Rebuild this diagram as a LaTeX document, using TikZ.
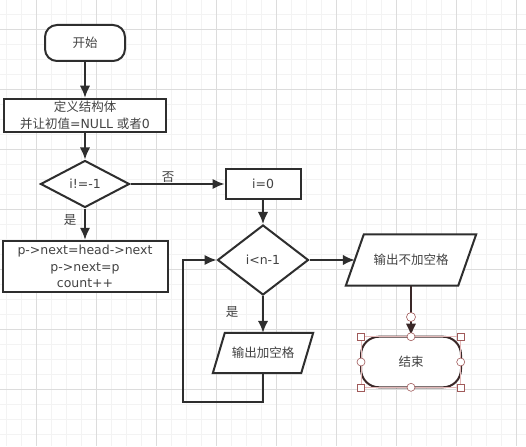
\documentclass[tikz,border=0pt]{standalone}
\usepackage{fontspec}
\setmainfont{DejaVu Sans}
\newfontfamily\cjk{Noto Sans CJK SC}
\usetikzlibrary{shapes.geometric,arrows.meta}
\definecolor{ln}{HTML}{2E2E2E}
\definecolor{endc}{HTML}{3A2828}
\definecolor{hdl}{HTML}{A05A5A}
\definecolor{sell}{HTML}{E3B8B8}
\definecolor{gmin}{HTML}{F3F3F3}
\definecolor{gmaj}{HTML}{DCDCDC}
\tikzset{
  txtfont/.style={font=\fontsize{12.5}{16.5}\selectfont},
  base/.style={draw=ln, line width=2pt, fill=white, inner sep=0pt, txtfont, align=center, text=ln!90},
  term/.style={base, rectangle, rounded corners=12pt},
  proc/.style={base, rectangle},
  dec/.style={base, diamond},
  iobox/.style={rectangle, inner sep=0pt, txtfont, align=center, text=ln!90},
  para/.style={draw=ln, line width=2pt, fill=white, line join=miter},
  arr/.style={draw=ln, line width=2pt, -{Latex[length=12pt,width=10.5pt]}},
  lbl/.style={txtfont, text=ln!90, inner sep=0pt},
  gminor/.style={draw=gmin, line width=0.6pt},
  gmajor/.style={draw=gmaj, line width=0.8pt},
  sqh/.style={rectangle, draw=hdl, fill=white, line width=0.6pt, minimum size=7pt, inner sep=0pt},
  cih/.style={circle, draw=hdl, fill=white, line width=0.6pt, minimum size=8pt, inner sep=0pt},
}
\begin{document}
\begin{tikzpicture}[x=1pt,y=-1pt]
\useasboundingbox (0,0) rectangle (526,446);
\fill[white] (0,0) rectangle (526,446);
% grid
\foreach \i in {0,...,35} \draw[gminor] ({6.7+15*\i},0) -- ++(0,446);
\foreach \i in {0,...,30} \draw[gminor] (0,{14.3+15*\i}) -- ++(526,0);
\foreach \i in {0,...,8} \draw[gmajor] ({36.7+60*\i},0) -- ++(0,446);
\foreach \i in {0,...,7} \draw[gmajor] (0,{29.3+60*\i}) -- ++(526,0);

% nodes
\node[term, minimum width=80pt, minimum height=36pt] (start) at (85,43) {\cjk 开始};
\node[proc, minimum width=162pt, minimum height=33.5pt] (def) at (85,115.5) {{\cjk 定义结构体}\\{\cjk 并让初值}=NULL {\cjk 或者}0};
\node[dec, minimum width=89pt, minimum height=47pt] (d1) at (85,184) {i!=-1};
\node[proc, minimum width=75pt, minimum height=30pt] (i0) at (263,184) {i=0};
\node[dec, minimum width=91pt, minimum height=70pt] (d2) at (263,260) {i<n-1};
\node[proc, minimum width=165pt, minimum height=51.5pt] (pbox) at (85,266.5) {p->next=head->next\\p->next=p\\count++};

% parallelogram 1
\node[iobox, minimum width=112pt, minimum height=51pt] (out1) at (411,260) {};
\draw[para] ([xshift=9pt]out1.north west) -- ([xshift=9pt]out1.north east) -- ([xshift=-9pt]out1.south east) -- ([xshift=-9pt]out1.south west) -- cycle;
\node[iobox] (out1t) at (out1.center) {\cjk 输出不加空格};

% parallelogram 2
\node[iobox, minimum width=88pt, minimum height=40pt] (out2) at (263,353) {};
\draw[para] ([xshift=6pt]out2.north west) -- ([xshift=6pt]out2.north east) -- ([xshift=-6pt]out2.south east) -- ([xshift=-6pt]out2.south west) -- cycle;
\node[iobox] (out2t) at (out2.center) {\cjk 输出加空格};

% end
\node[term, draw=endc, rounded corners=18pt, minimum width=100pt, minimum height=50.6pt] (end) at (411,362) {\cjk 结束};

% connectors
\draw[arr] (start) -- (def);
\draw[arr] (def) -- (d1);
\draw[arr] (d1) -- (pbox);
\draw[arr] (d1.east) -- (i0.west);
\draw[arr] (i0) -- (d2);
\draw[arr] (d2.east) -- (out1.west);
\draw[arr] (d2.south) -- (out2.north);
\coordinate (c1) at (263,402);
\coordinate (c2) at (183,402);
\coordinate (c3) at (183,260);
\draw[arr] (out2.south) -- (c1) -- (c2) -- (c3) -- (d2.west);
\draw[draw=endc, line width=2pt, -{Latex[length=12pt,width=10.5pt]}] (out1.south) -- (end.north);

% labels
\node[lbl] (no1) at (168,177) {\cjk 否};
\node[lbl] (yes1) at (70,220) {\cjk 是};
\node[lbl] (yes2) at (232,312) {\cjk 是};

% selection handles
\draw[draw=sell, line width=0.6pt] (361,336.7) rectangle (460.7,387.3);
\node[sqh] (h1) at (361,336.7) {};
\node[sqh] (h2) at (460.7,336.7) {};
\node[sqh] (h3) at (361,387.3) {};
\node[sqh] (h4) at (460.7,387.3) {};
\node[cih] (h5) at (411,336.7) {};
\node[cih] (h6) at (361,362) {};
\node[cih] (h7) at (460.7,362) {};
\node[cih] (h8) at (411,387.3) {};
\node[cih, minimum size=9pt] (h9) at (411,317) {};
\end{tikzpicture}
\end{document}
